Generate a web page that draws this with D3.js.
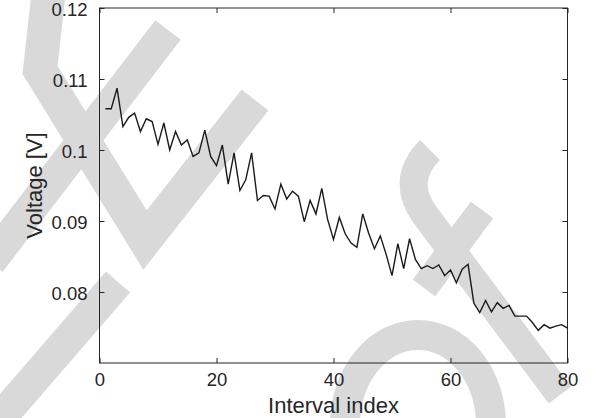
<!DOCTYPE html>
<html>
<head>
<meta charset="utf-8">
<script src="https://cdn.jsdelivr.net/npm/d3@7"></script>
<style>
  html, body { margin: 0; padding: 0; background: #fff; }
  svg { display: block; }
  text { font-family: "Liberation Sans", Arial, Helvetica, sans-serif; fill: #262626; }
</style>
</head>
<body>
<svg id="chart" width="593" height="418"></svg>
<script>
// Data
const intervalIndex = d3.range(1, 81);
const voltage = [
  0.1058, 0.1058, 0.1087, 0.1033, 0.1046, 0.1052, 0.1026, 0.1044, 0.1040, 0.1008,
  0.1038, 0.1000, 0.1026, 0.1007, 0.1014, 0.0991, 0.0996, 0.1028, 0.0991, 0.0978,
  0.1007, 0.0952, 0.0996, 0.0943, 0.0958, 0.0996, 0.0929, 0.0936, 0.0935, 0.0917,
  0.0952, 0.0931, 0.0942, 0.0935, 0.0899, 0.0929, 0.0910, 0.0946, 0.0902, 0.0874,
  0.0905, 0.0882, 0.0869, 0.0863, 0.0910, 0.0883, 0.0861, 0.0879, 0.0853, 0.0823,
  0.0868, 0.0833, 0.0875, 0.0846, 0.0833, 0.0837, 0.0833, 0.0838, 0.0823, 0.0831,
  0.0813, 0.0832, 0.0839, 0.0784, 0.0771, 0.0788, 0.0772, 0.0785, 0.0777, 0.0781,
  0.0766, 0.0766, 0.0766, 0.0757, 0.0746, 0.0754, 0.0749, 0.0752, 0.0754, 0.0749
];
const xTicks = [0, 20, 40, 60, 80];
const yTicks = [0.08, 0.09, 0.10, 0.11, 0.12];
const yTickLabels = ["0.08", "0.09", "0.1", "0.11", "0.12"];
const xDomain = [0, 80];
const yDomain = [0.07, 0.12];
const xLabel = "Interval index";
const yLabel = "Voltage [V]";

(function () {
const svg = d3.select("#chart");
const mLeft = 99.5, mRight = 567.5, mTop = 8, mBottom = 363;

// watermark (light grey strokes behind the chart)
const wm = svg.append("g").attr("fill", "none").attr("stroke", "#d9d9d9")
  .attr("stroke-linejoin", "miter").attr("stroke-linecap", "butt");
wm.append("path").attr("stroke-width", 34).attr("d", "M 50 -20 L 40 70 L 145 240 L 255 100");
wm.append("path").attr("stroke-width", 32).attr("d", "M 168 30 L -10 262");
wm.append("path").attr("stroke-width", 32).attr("d", "M 118 282 L -10 430");
wm.append("path").attr("stroke-width", 30).attr("d", "M 345 440 L 345 425 A 73 90 0 0 1 491 425 L 491 440");
wm.append("path").attr("stroke-width", 28).attr("d", "M 560 395 L 425 215 Q 400 180 430 150");
wm.append("path").attr("stroke-width", 28).attr("d", "M 482 210 L 424 288");

const x = d3.scaleLinear().domain(xDomain).range([mLeft, mRight]);
const y = d3.scaleLinear().domain(yDomain).range([mBottom, mTop]);

const axisColor = "#262626";
const g = svg.append("g");

// box
g.append("rect").attr("x", mLeft).attr("y", mTop).attr("width", mRight - mLeft).attr("height", mBottom - mTop)
  .attr("fill", "none").attr("stroke", axisColor).attr("stroke-width", 1);

// axes with inward ticks
const xAxisB = d3.axisBottom(x).tickValues(xTicks).tickSizeInner(-5).tickSizeOuter(0).tickPadding(10).tickFormat(d3.format("d"));
const xAxisT = d3.axisTop(x).tickValues(xTicks).tickSizeInner(-5).tickSizeOuter(0).tickFormat("");
const yAxisL = d3.axisLeft(y).tickValues(yTicks).tickSizeInner(-5).tickSizeOuter(0).tickPadding(12)
  .tickFormat((d, i) => yTickLabels[i]);
const yAxisR = d3.axisRight(y).tickValues(yTicks).tickSizeInner(-5).tickSizeOuter(0).tickFormat("");

function style(sel) {
  sel.select(".domain").remove();
  sel.selectAll(".tick line").attr("stroke", axisColor);
  sel.selectAll(".tick text").attr("fill", "#262626").style("font-size", "18.5px")
    .style("font-family", '"Liberation Sans", Arial, sans-serif');
}
g.append("g").attr("transform", `translate(0,${mBottom})`).call(xAxisB).call(style);
g.append("g").attr("transform", `translate(0,${mTop})`).call(xAxisT).call(style);
g.append("g").attr("transform", `translate(${mLeft},0)`).call(yAxisL).call(style)
  .selectAll(".tick text").attr("dy", "0.38em");
g.append("g").attr("transform", `translate(${mRight},0)`).call(yAxisR).call(style);

// line
const line = d3.line().x((d, i) => x(intervalIndex[i])).y(d => y(d));
g.append("path").datum(voltage).attr("d", line).attr("fill", "none")
  .attr("stroke", "#1a1a1a").attr("stroke-width", 1.4).attr("stroke-linejoin", "miter");

// labels
svg.append("text").attr("x", (mLeft + mRight) / 2).attr("y", 413).attr("text-anchor", "middle")
  .style("font-size", "22px").text(xLabel);
svg.append("text").attr("transform", `translate(42,${(mTop + mBottom) / 2}) rotate(-90)`)
  .attr("text-anchor", "middle").style("font-size", "22px").text(yLabel);
})();
</script>
</body>
</html>
